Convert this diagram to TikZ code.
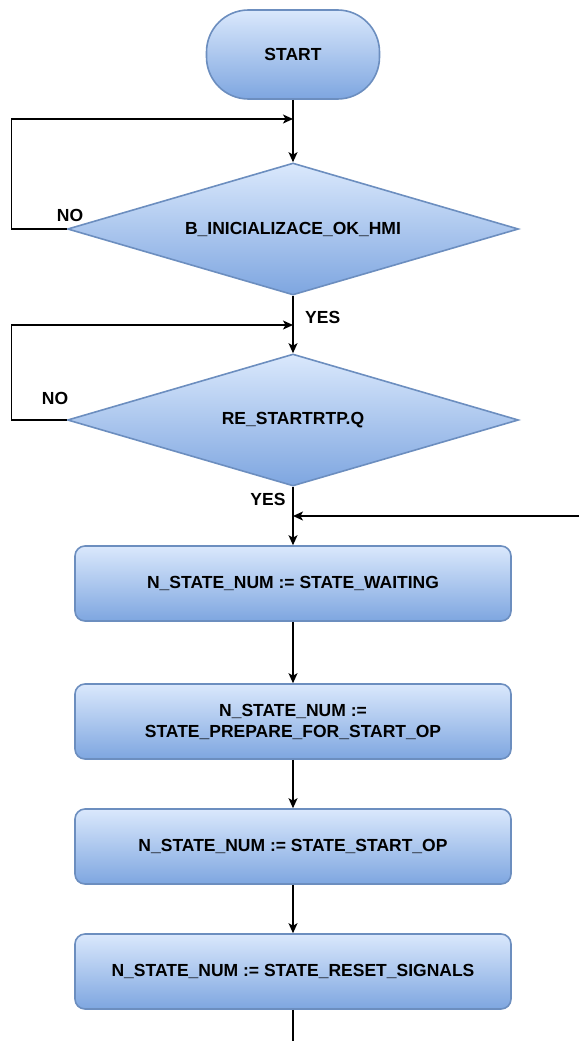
\documentclass[tikz,border=0pt]{standalone}
\usepackage{fontspec}
\setmainfont{Liberation Sans}
\usetikzlibrary{shapes.geometric,arrows.meta}
\definecolor{fillTop}{HTML}{DAE8FC}
\definecolor{fillBot}{HTML}{7EA6E0}
\definecolor{edgeblue}{HTML}{6C8EBF}
\begin{document}
\begin{tikzpicture}[x=1pt,y=-1pt,
  base/.style={draw=edgeblue, line width=1.6pt, top color=fillTop, bottom color=fillBot,
    font=\bfseries\fontsize{17.5}{21}\selectfont, text=black, inner sep=0pt, align=center},
  term/.style={base, rectangle, rounded corners=42pt, minimum width=173pt, minimum height=89pt},
  decision/.style={base, diamond, aspect=3.42, minimum width=451pt, minimum height=132pt},
  procbox/.style={base, rectangle, rounded corners=10pt, minimum width=436pt, minimum height=75pt},
  conn/.style={draw=black, line width=1.3pt},
  arr/.style={conn, -{Stealth[length=10pt,width=9pt,inset=2.5pt]}},
  lbl/.style={font=\bfseries\fontsize{17.5}{21}\selectfont, text=black, inner sep=0pt}
]
\useasboundingbox (0,0) rectangle (579,1041);

\node[term] (start) at (293,54.5) {START};
\node[decision] (d1) at (293,229) {B\_INICIALIZACE\_OK\_HMI};
\node[decision] (d2) at (293,420) {RE\_STARTRTP.Q};
\node[procbox] (p1) at (293,583.5) {N\_STATE\_NUM := STATE\_WAITING};
\node[procbox] (p2) at (293,721.5) {N\_STATE\_NUM :=\\STATE\_PREPARE\_FOR\_START\_OP};
\node[procbox] (p3) at (293,846.5) {N\_STATE\_NUM := STATE\_START\_OP};
\node[procbox] (p4) at (293,971.5) {N\_STATE\_NUM := STATE\_RESET\_SIGNALS};

\coordinate (j1) at (293,119);
\coordinate (j2) at (293,325);
\coordinate (j3) at (293,516);
\coordinate (ext) at (579,516);
\coordinate (endp) at (293,1041);

\draw[arr] (start.south) -- (d1.north);
\draw[arr] (d1.west) -- ++(-55,0) |- (j1);
\draw[arr] (d1.south) -- (d2.north);
\draw[arr] (d2.west) -- ++(-55,0) |- (j2);
\draw[arr] (d2.south) -- (p1.north);
\draw[arr] (ext) -- (j3);
\draw[arr] (p1.south) -- (p2.north);
\draw[arr] (p2.south) -- (p3.north);
\draw[arr] (p3.south) -- (p4.north);
\draw[conn] (p4.south) -- (endp);

\node[lbl] (no1) at (70,215) {NO};
\node[lbl, anchor=west] (yes1) at (305,317) {YES};
\node[lbl] (no2) at (55,398) {NO};
\node[lbl] (yes2) at (268,499) {YES};
\end{tikzpicture}
\end{document}
